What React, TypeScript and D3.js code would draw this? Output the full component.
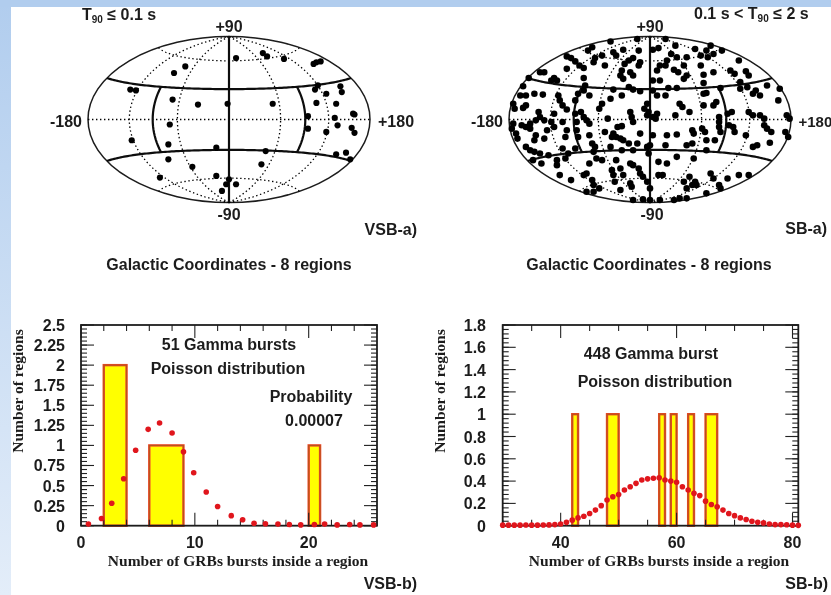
import React from "react";
import * as d3 from "d3";

// Sky positions, as percentages of the map's half-width / half-height (Hammer plane)
const vsbSky: [number, number][] = [[5,74],[24,80],[27,76],[39,73],[60,67],[62,69],[65,70],[-31,64],[-39,56],[-70,36],[-66,35],[-40,24],[-22,18],[-1,19],[31,19],[61,36],[63,41],[69,31],[79,40],[80,33],[62,20],[76,19],[88,7],[89,6],[56,4],[75,2],[-42,-6],[56,-11],[77,-7],[87,-10],[89,-16],[69,-15],[-69,-25],[-43,-30],[-9,-34],[26,-38],[76,-42],[83,-40],[86,-48],[-43,-48],[23,-54],[-26,-57],[-49,-70],[-9,-68],[0,-72],[-2,-78],[5,-78],[-5,-86]];
const sbSkyNorth: [number, number][] = [[-28,94],[-9,97],[11,97],[-41,87],[-44,83],[2,84],[6,86],[18,89],[32,85],[43,89],[51,83],[45,79],[40,83],[-26,81],[-19,84],[-8,83],[-59,76],[-56,74],[-53,70],[-50,65],[-47,62],[-40,69],[-39,74],[-34,77],[-32,65],[-24,77],[-15,71],[-18,67],[-12,74],[-7,69],[-8,65],[-20,59],[-21,53],[-19,49],[-14,57],[-12,53],[-59,61],[-75,57],[-78,57],[-47,50],[-66,47],[-70,47],[-68,50],[12,71],[15,79],[11,65],[19,75],[26,75],[24,65],[36,77],[41,75],[36,65],[45,57],[38,54],[63,71],[57,59],[60,55],[68,58],[70,53],[7,65],[5,59],[17,60],[20,57],[26,53],[24,49],[2,47],[7,47],[64,45],[38,44]];
const sbSkyUpperBand: [number, number][] = [[-86,50],[-46,41],[-47,35],[-51,31],[-43,29],[-26,36],[-15,39],[-12,36],[-7,34],[2,35],[13,38],[19,38],[40,32],[50,38],[69,39],[78,29],[83,41],[92,37],[-90,40],[64,37],[75,35],[73,31],[11,29],[5,29],[-20,29],[-28,25],[-34,19],[-36,13],[-53,23]];
const sbSkyLeft: [number, number][] = [[-82,31],[-88,29],[-76,30],[-92,29],[-97,19],[-96,13],[-88,17],[-90,14],[-65,29],[-64,23],[-62,17],[-59,12],[-53,7],[-49,9],[-47,3],[-45,-1],[-79,9],[-78,3],[-75,-1],[-81,-1],[-68,7],[-70,-3],[-68,-9],[-62,-3],[-85,-5],[-88,-9],[-91,-7],[-97,-5],[-98,-11],[-95,-17],[-94,-23],[-85,-11],[-81,-19],[-73,-13],[-59,-13],[-60,-21],[-75,-23],[-82,-25],[-52,-13],[-51,-21],[-52,-3],[-88,-33],[-85,-37],[-82,-39],[-78,-41],[-83,-49],[-77,-53],[-72,-43],[-58,-41],[-60,-47],[-66,-49],[-66,-55],[-62,-35],[-53,-35],[-43,-5],[-43,-19],[-41,-29],[-39,-33],[-40,-39]];
const sbSkyCentre: [number, number][] = [[-30,1],[-14,9],[-13,3],[-12,-3],[-23,-9],[-20,-8],[-2,19],[-4,13],[-1,9],[-2,5],[5,7],[4,1],[2,3],[18,5],[21,19],[23,15],[28,9],[38,17],[45,17],[47,21],[37,-11],[39,-15],[30,-13],[31,-17],[12,-19],[19,-18],[30,-29],[40,-25],[46,-25],[38,31],[49,3],[49,-3],[49,-9],[50,-15],[-26,-17],[-27,-21],[-24,-21],[-21,-23],[-19,-25],[-32,-15],[-15,-29],[-9,-29],[-7,-17],[2,-19],[-2,-33],[0,-31],[-1,-41],[-12,-37],[-20,-37],[-28,-33],[11,-31],[26,-31],[40,-37],[55,7],[58,9],[70,9],[73,5],[78,5],[81,1],[81,-7],[83,-11],[86,-15],[97,5],[99,1],[96,-15],[98,-21],[56,-7],[59,-9],[60,-15],[68,-19],[73,-33],[76,-31],[85,-28],[91,23]];
const sbSkySouth: [number, number][] = [[-43,-53],[-38,-47],[-34,-49],[-24,-49],[-45,-65],[-47,-67],[-64,-67],[-56,-73],[-41,-73],[-40,-79],[-45,-87],[-40,-87],[-36,-83],[-27,-61],[-26,-67],[-21,-59],[-19,-67],[-25,-75],[-14,-53],[-12,-55],[-8,-59],[-7,-65],[-5,-69],[-14,-77],[-13,-81],[-2,-75],[0,-83],[-21,-85],[6,-67],[9,-67],[6,-51],[12,-53],[19,-45],[31,-47],[43,-65],[45,-71],[24,-75],[28,-69],[32,-75],[30,-79],[26,-83],[33,-79],[49,-79],[50,-83],[55,-71],[63,-67],[70,-67],[40,-89],[26,-95],[21,-95],[17,-97],[7,-97],[0,-97],[-5,-96],[-12,-97]];

// Histograms: [from, to, count]
const vsbBars: [number, number, number][] = [[2,4,2],[6,9,1],[20,21,1]];
const sbBars: [number, number, number][] = [[42,43,1],[48,50,1],[57,58,1],[59,60,1],[62,63,1],[65,67,1]];

// Poisson points
const vsbPoissonX = [0.65,1.8,2.7,3.75,4.8,5.9,6.9,8,9,9.9,11,12,13.2,14.2,15.2,16.2,17.3,18.3,19.3,20.5,21.4,22.5,23.6,24.5,25.7];
const vsbPoissonY = [0.02,0.09,0.28,0.585,0.94,1.2,1.28,1.155,0.92,0.66,0.42,0.24,0.125,0.075,0.03,0.025,0.02,0.015,0.01,0.015,0.02,0.01,0.015,0.01,0.01];
const sbPoissonX = [30,31,32,33,34,35,36,37,38,39,40,41,42,43,44,45,46,47,48,49,50,51,52,53,54,55,56,57,58,59,60,61,62,63,64,65,66,67,68,69,70,71,72,73,74,75,76,77,78,79,80,81];
const sbPoissonY = [0.005,0.005,0.005,0.005,0.006,0.005,0.005,0.006,0.007,0.01,0.015,0.03,0.05,0.07,0.085,0.11,0.14,0.18,0.23,0.26,0.28,0.32,0.35,0.38,0.41,0.42,0.425,0.43,0.41,0.4,0.39,0.35,0.32,0.29,0.27,0.22,0.19,0.17,0.14,0.11,0.09,0.07,0.055,0.04,0.03,0.025,0.015,0.01,0.01,0.008,0.005,0.003];

const vsbYTicks = ["0","0.25","0.5","0.75","1","1.25","1.5","1.75","2","2.25","2.5"];
const sbYTicks = ["0","0.2","0.4","0.6","0.8","1","1.2","1.4","1.6","1.8"];
const vsbXTicks = [0,10,20];
const sbXTicks = [40,60,80];
const dottedMeridians = [-120,-60,60,120];
const dottedParallels = [-60,0,60];

const SANS = "'Liberation Sans', Arial, sans-serif";
const SERIF = "'Liberation Serif', serif";
const INK = "#1c1c1c";

const rad = Math.PI / 180;
// Hammer projection, normalised to the unit ellipse
function hammer(l: number, p: number): [number, number] {
  const d = Math.sqrt(1 + Math.cos(p) * Math.cos(l / 2));
  return [(Math.cos(p) * Math.sin(l / 2)) / d, Math.sin(p) / d];
}

function SkyMap({ cx, cy, rx, ry, dots, r, labels }: any) {
  const sx = d3.scaleLinear().domain([-100, 100]).range([cx - rx, cx + rx]);
  const sy = d3.scaleLinear().domain([-100, 100]).range([cy + ry, cy - ry]);
  const line = d3.line<[number, number]>()
    .x(([l, b]) => sx(hammer(l * rad, b * rad)[0] * 100))
    .y(([l, b]) => sy(hammer(l * rad, b * rad)[1] * 100));
  const lat = (b: number, a = -180, z = 180) => line(d3.range(a, z + 0.5, 3).map((l) => [l, b] as [number, number]))!;
  const lon = (l: number, a = -90, z = 90) => line(d3.range(a, z + 0.5, 3).map((b) => [l, b] as [number, number]))!;
  return (
    <g>
      <ellipse cx={cx} cy={cy} rx={rx} ry={ry} fill="#fff" stroke={INK} strokeWidth={1.5} />
      <g fill="none" stroke="#000" strokeWidth={1.3} strokeDasharray="1.4 2.6">
        {dottedMeridians.map((m) => <path key={m} d={lon(m)} />)}
        {dottedParallels.map((p) => <path key={p} d={lat(p)} />)}
      </g>
      <g fill="none" stroke="#0d0d0d" strokeWidth={2.2}>
        <path d={lat(30)} /><path d={lat(-30)} />
        <path d={lon(-90, -30, 30)} /><path d={lon(90, -30, 30)} />
        <path d={lon(0)} />
      </g>
      {dots.map((d: [number, number], i: number) => <circle key={i} cx={sx(d[0])} cy={sy(d[1])} r={r} fill="#050505" />)}
      {labels}
    </g>
  );
}

function Hist({ x0, x1, y0, y1, xDomain, yMax, bars, px, py, xTicks, xMinor, yLabels, yMajor, yMinor, yLabelEnd, yTitleX, xTitleX, dotR }: any) {
  const x = d3.scaleLinear().domain(xDomain).range([x0, x1]);
  const y = d3.scaleLinear().domain([0, yMax]).range([y0, y1]);
  const yMajorVals = d3.range(0, yMax + 1e-6, yMajor);
  const yMinorVals = d3.range(0, yMax + 1e-6, yMinor);
  const xMinorVals = d3.range(Math.ceil(xDomain[0] / xMinor) * xMinor, xDomain[1] + 1e-6, xMinor);
  const tick = "#222";
  return (
    <g>
      {bars.map(([a, b, c]: number[], i: number) => (
        <g key={i}>
          <rect x={x(a)} y={y(c)} width={x(b) - x(a)} height={y(0) - y(c)} fill="#ffff00" stroke="#f2452a" strokeWidth={2.4} />
          <rect x={x(a)} y={y(c)} width={x(b) - x(a)} height={y(0) - y(c)} fill="none" stroke="#b4561c" strokeWidth={1.1} />
        </g>
      ))}
      <g stroke={tick} strokeWidth={1.1}>
        {xMinorVals.map((v: number) => {
          const len = xTicks.includes(v) ? 13 : 6;
          return <g key={v}><line x1={x(v)} x2={x(v)} y1={y0} y2={y0 - len} /><line x1={x(v)} x2={x(v)} y1={y1} y2={y1 + len} /></g>;
        })}
        {yMinorVals.map((v: number) => (
          <g key={v}>
            <line x1={x0} x2={x0 + 6} y1={y(v)} y2={y(v)} /><line x1={x1} x2={x1 - 6} y1={y(v)} y2={y(v)} />
          </g>
        ))}
        {yMajorVals.map((v: number) => (
          <g key={v}>
            <line x1={x0} x2={x0 + 13} y1={y(v)} y2={y(v)} /><line x1={x1} x2={x1 - 13} y1={y(v)} y2={y(v)} />
          </g>
        ))}
      </g>
      <rect x={x0} y={y1} width={x1 - x0} height={y0 - y1} fill="none" stroke="#1c1c1c" strokeWidth={1.8} />
      {px.map((v: number, i: number) => <circle key={i} cx={x(v)} cy={y(py[i])} r={dotR} fill="#e0141e" />)}
      <g fontFamily={SANS} fontWeight={700} fontSize={16} fill={INK}>
        {yLabels.map((t: string) => <text key={t} x={yLabelEnd} y={y(+t) + 6} textAnchor="end">{t}</text>)}
        {xTicks.map((t: number) => <text key={t} x={x(t)} y={548} textAnchor="middle">{t}</text>)}
      </g>
      <g fontFamily={SERIF} fontWeight={700} fontSize={15.5} fill={INK}>
        <text x={xTitleX} y={566} textAnchor="middle">Number of GRBs bursts inside a region</text>
        <text transform={`translate(${yTitleX},391) rotate(-90)`} textAnchor="middle">Number of regions</text>
      </g>
    </g>
  );
}

function Lab({ x, y, a = "middle", s = 16, children }: any) {
  return <text x={x} y={y} textAnchor={a} fontFamily={SANS} fontWeight={700} fontSize={s} fill={INK}>{children}</text>;
}

export default function App() {
  const sbSky = [...sbSkyNorth, ...sbSkyUpperBand, ...sbSkyLeft, ...sbSkyCentre, ...sbSkySouth];
  return (
    <svg width={831} height={595} style={{ position: "absolute", left: 0, top: 0 }}>
      <defs>
        <linearGradient id="band" x1="0" y1="0" x2="0" y2="1">
          <stop offset="0" stopColor="#b1cdee" />
          <stop offset="1" stopColor="#e3edf9" />
        </linearGradient>
        <filter id="soft" x="-5%" y="-5%" width="110%" height="110%"><feGaussianBlur stdDeviation="0.45" /></filter>
      </defs>
      <rect width={831} height={595} fill="#fff" />
      <rect width={11} height={595} fill="url(#band)" />
      <rect width={831} height={7} fill="#b1cdee" />
      <g filter="url(#soft)">
        <SkyMap cx={229} cy={119.5} rx={141} ry={83} dots={vsbSky} r={3.1} labels={
          <g>
            <Lab x={82} y={20} a="start">T<tspan fontSize={10} dy={3}>90</tspan><tspan dy={-3}> ≤ 0.1 s</tspan></Lab>
            <Lab x={229} y={32}>+90</Lab>
            <Lab x={229} y={220}>-90</Lab>
            <Lab x={82} y={127} a="end">-180</Lab>
            <Lab x={378} y={127} a="start">+180</Lab>
            <Lab x={417} y={235} a="end">VSB-a)</Lab>
            <Lab x={229} y={270}>Galactic Coordinates - 8 regions</Lab>
          </g>
        } />
        <SkyMap cx={650} cy={119.5} rx={141} ry={83} dots={sbSky} r={3.3} labels={
          <g>
            <Lab x={694} y={19} a="start">0.1 s &lt; T<tspan fontSize={10} dy={3}>90</tspan><tspan dy={-3}> ≤ 2 s</tspan></Lab>
            <Lab x={650} y={32}>+90</Lab>
            <Lab x={652} y={220}>-90</Lab>
            <Lab x={503} y={127} a="end">-180</Lab>
            <Lab x={798.5} y={127} a="start" s={15}>+180</Lab>
            <Lab x={827} y={234} a="end">SB-a)</Lab>
            <Lab x={649} y={270}>Galactic Coordinates - 8 regions</Lab>
          </g>
        } />
        <Hist x0={81} x1={377} y0={525.7} y1={325} xDomain={[0,26]} yMax={2.5} bars={vsbBars}
          px={vsbPoissonX} py={vsbPoissonY} xTicks={vsbXTicks} xMinor={2} yLabels={vsbYTicks}
          yMajor={0.25} yMinor={0.05} yLabelEnd={65} yTitleX={23} xTitleX={238} dotR={2.8} />
        <Hist x0={502.7} x1={798.3} y0={525.7} y1={325} xDomain={[30,81]} yMax={1.8} bars={sbBars}
          px={sbPoissonX} py={sbPoissonY} xTicks={sbXTicks} xMinor={5} yLabels={sbYTicks}
          yMajor={0.2} yMinor={0.04} yLabelEnd={486} yTitleX={445} xTitleX={659} dotR={2.8} />
        <Lab x={229} y={350}>51 Gamma bursts</Lab>
        <Lab x={228} y={374}>Poisson distribution</Lab>
        <Lab x={311} y={402}>Probability</Lab>
        <Lab x={314} y={426}>0.00007</Lab>
        <Lab x={417} y={589} a="end">VSB-b)</Lab>
        <Lab x={651} y={359}>448 Gamma burst</Lab>
        <Lab x={655} y={387}>Poisson distribution</Lab>
        <Lab x={828} y={589} a="end">SB-b)</Lab>
      </g>
    </svg>
  );
}
